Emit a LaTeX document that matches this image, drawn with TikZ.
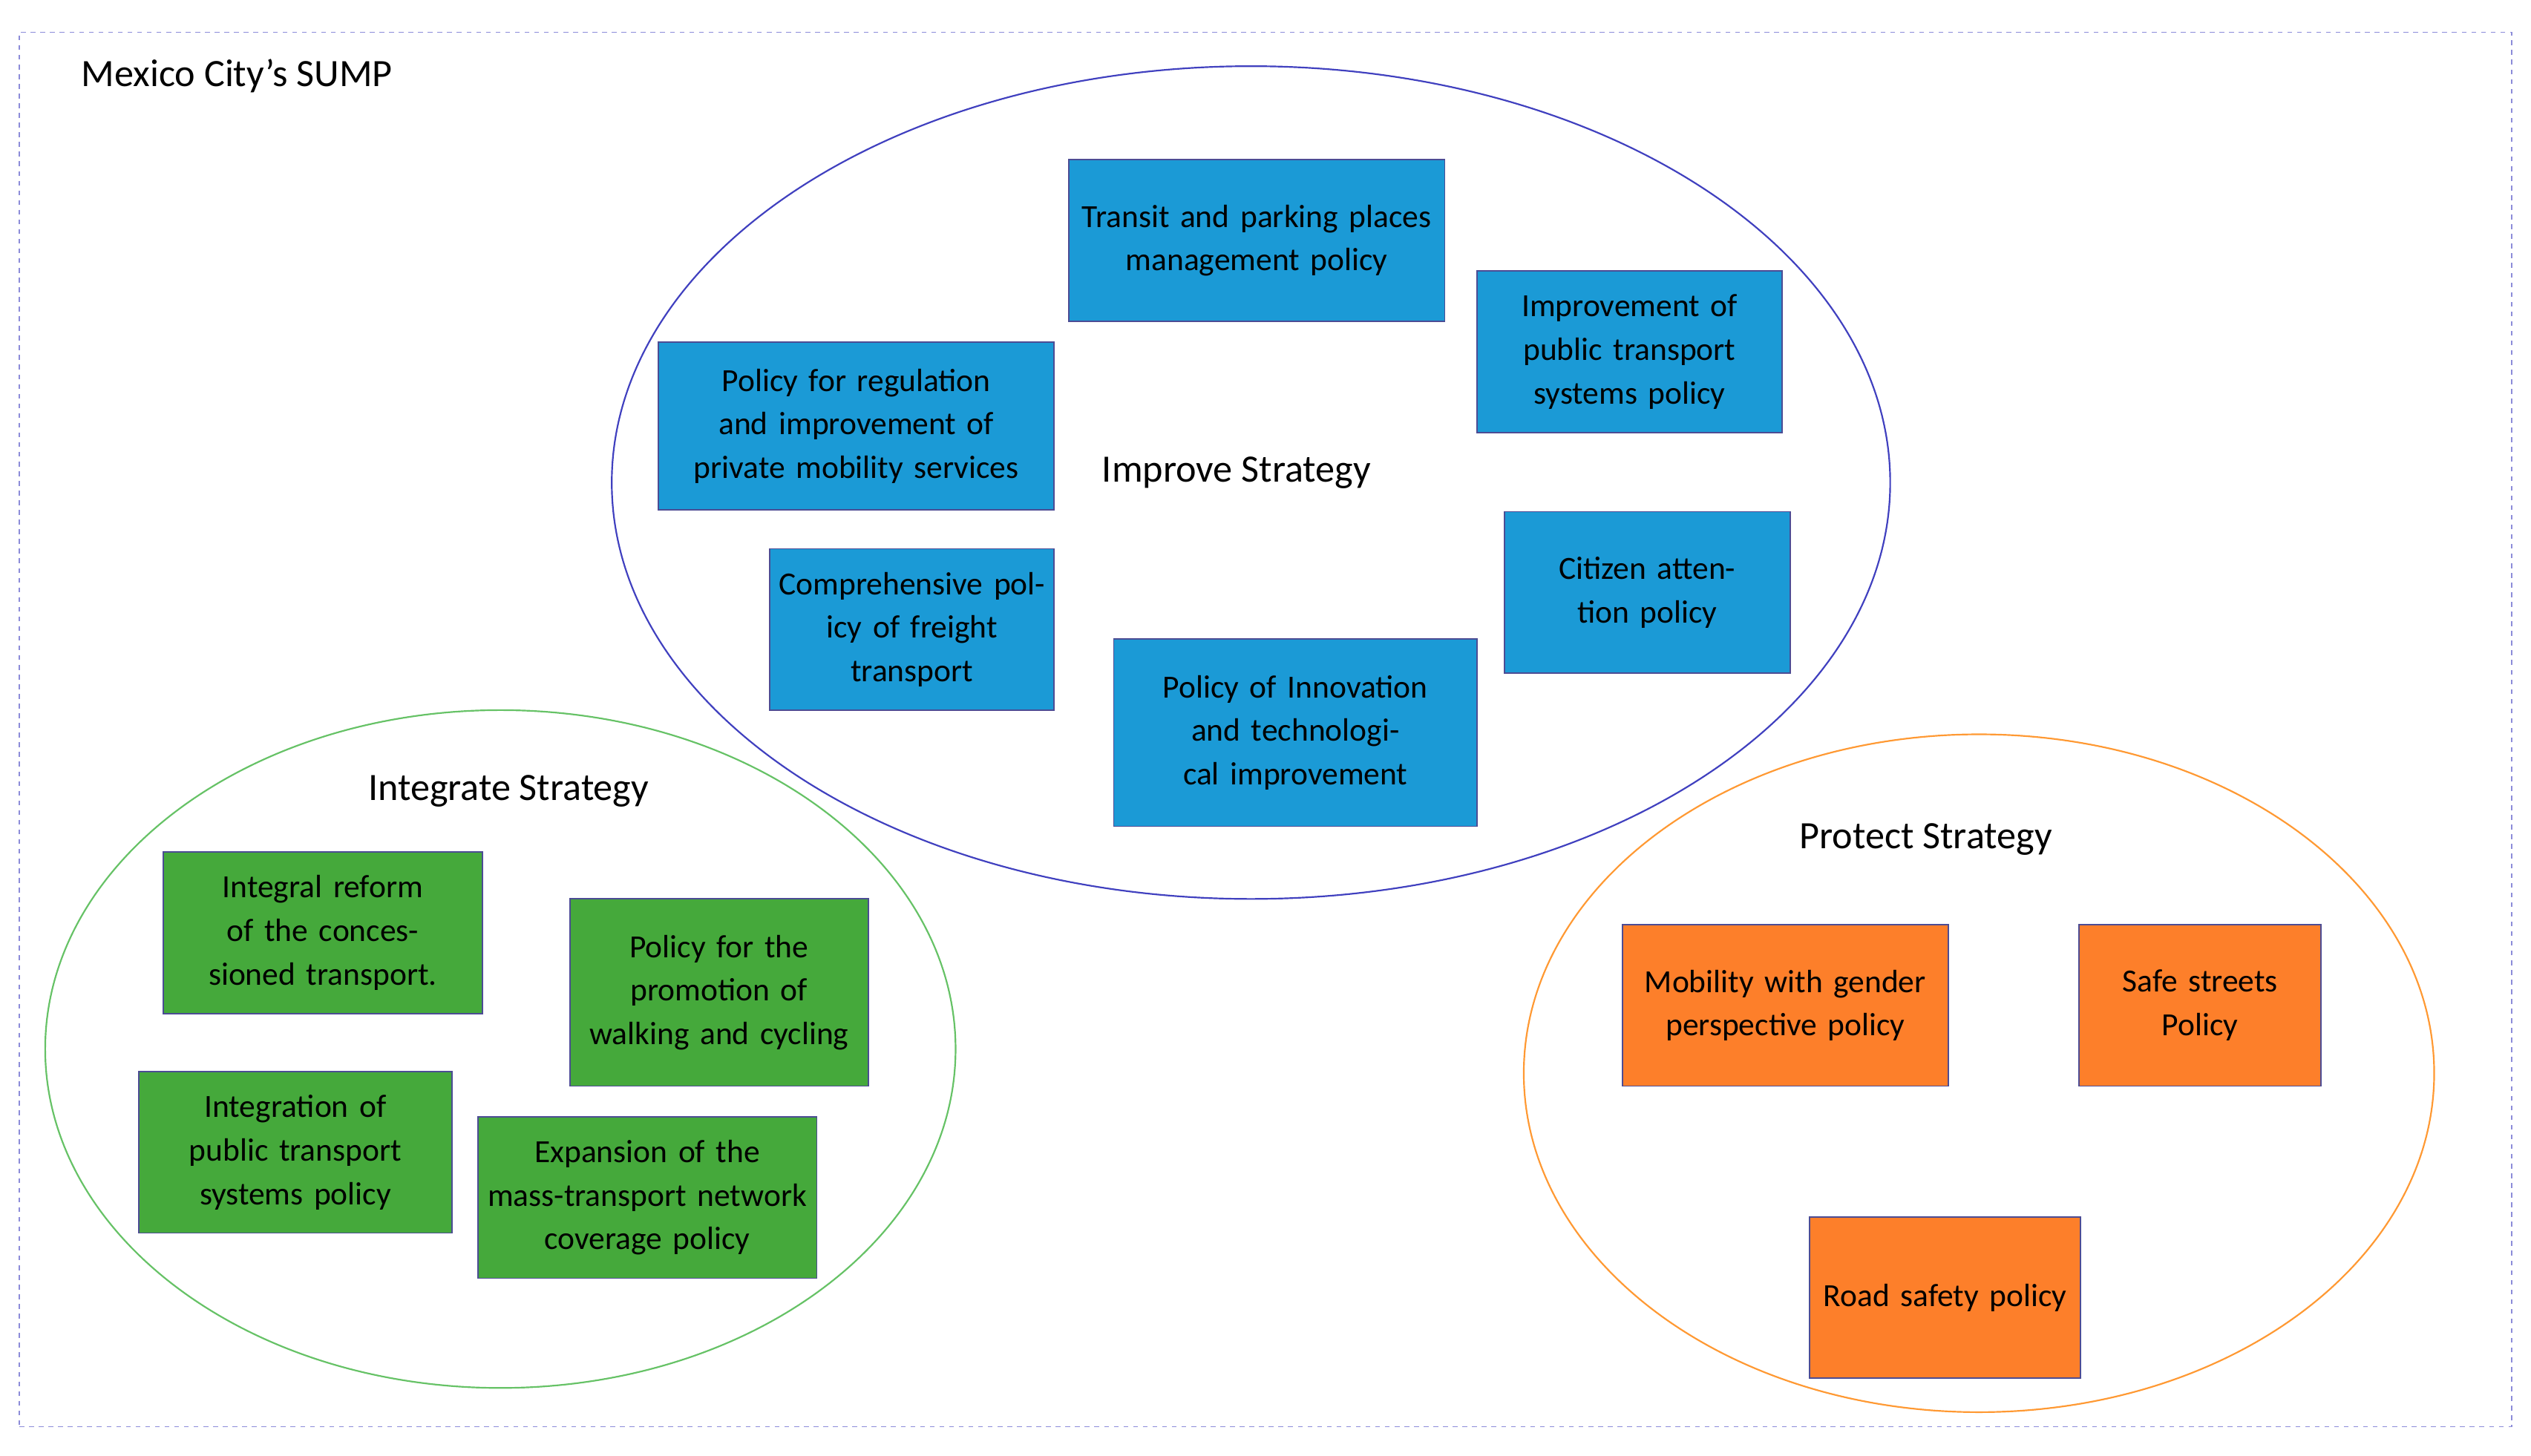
\documentclass[tikz,border=0pt]{standalone}
\usepackage{fontspec}
\setmainfont{Carlito}
\usetikzlibrary{shapes.geometric}
\begin{document}
\begin{tikzpicture}[x=1pt,y=-1pt,
  bx/.style={draw=blue!40!black!70,line width=0.8pt,align=center,inner sep=2pt,font=\fontsize{20}{27}\selectfont,text=black},
  lab/.style={font=\fontsize{24}{28}\selectfont}]
\newcommand{\mybox}[7]{\pgfmathsetmacro{\mbw}{#4-#2}\pgfmathsetmacro{\mbh}{#5-#3}\pgfmathsetmacro{\mbt}{#4-#2-8}%
\node[bx,fill=#6,minimum width=\mbw pt,minimum height=\mbh pt,text width=\mbt pt] (#1) at ({(#2+#4)/2},{(#3+#5)/2}) {#7};}
\definecolor{bl}{HTML}{1B9AD6}
\definecolor{gr}{HTML}{45A93B}
\definecolor{orn}{HTML}{FD7F2A}
\useasboundingbox (0,0) rectangle (1568,902);
\node[draw=gray!50!blue!60,dashed,line width=0.8pt,minimum width=1544pt,minimum height=864pt,inner sep=0] (frame) at (784,452) {};
\node[lab,anchor=west] (title) at (47,47) {Mexico City's SUMP};
\node[draw=blue!50!gray,line width=1pt,ellipse,minimum width=792pt,minimum height=516pt] (imp) at (775,299) {};
\node[draw=green!60!black!60,line width=1pt,ellipse,minimum width=564pt,minimum height=420pt] (int) at (310,650) {};
\node[draw=orange!80,line width=1pt,ellipse,minimum width=564pt,minimum height=420pt] (pro) at (1226,665) {};
\node[lab] (impl) at (766,293) {Improve Strategy};
\node[lab] (intl) at (315,490) {Integrate Strategy};
\node[lab] (prol) at (1193,520) {Protect Strategy};
\mybox{b1}{662}{99}{895}{199}{bl}{Transit and parking places management policy}
\mybox{b2}{915}{168}{1104}{268}{bl}{Improvement of public transport systems policy}
\mybox{b3}{408}{212}{653}{316}{bl}{Policy for regulation and improvement of private mobility services}
\mybox{b4}{477}{340}{653}{440}{bl}{Comprehensive policy of freight transport}
\mybox{b5}{690}{396}{915}{512}{bl}{Policy of Innovation and technological improvement}
\mybox{b6}{932}{317}{1109}{417}{bl}{Citizen attention policy}
\mybox{g1}{101}{528}{299}{628}{gr}{Integral reform of the concessioned transport.}
\mybox{g2}{353}{557}{538}{673}{gr}{Policy for the promotion of walking and cycling}
\mybox{g3}{86}{664}{280}{764}{gr}{Integration of public transport systems policy}
\mybox{g4}{296}{692}{506}{792}{gr}{Expansion of the mass-transport network coverage policy}
\mybox{o1}{1005}{573}{1207}{673}{orn}{Mobility with gender perspective policy}
\mybox{o2}{1288}{573}{1438}{673}{orn}{Safe streets Policy}
\mybox{o3}{1121}{754}{1289}{854}{orn}{Road safety policy}
\end{tikzpicture}
\end{document}
